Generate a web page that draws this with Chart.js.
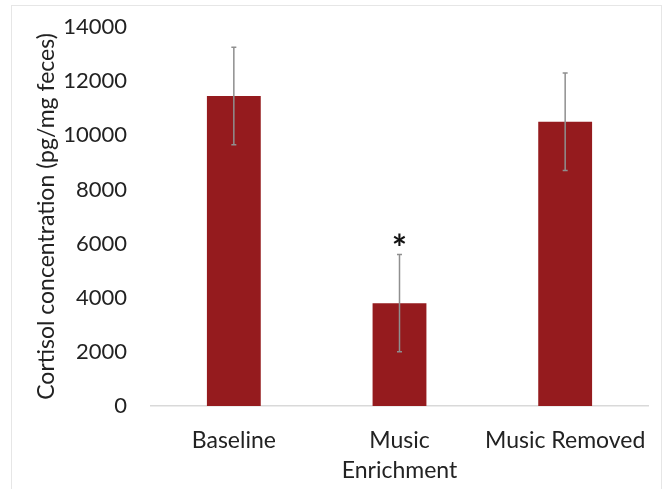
<!DOCTYPE html>
<html>
<head>
<meta charset="utf-8">
<script src="https://cdn.jsdelivr.net/npm/chart.js@4.4.1/dist/chart.umd.min.js"></script>
<style>
    html, body { margin: 0; padding: 0; background: #fff; }
    #wrap { position: relative; width: 665px; height: 489px; }
    #frame { position: absolute; left: 11px; top: 5px; width: 651px; height: 500px; border: 1px solid #e6e6e6; box-sizing: border-box; }
    canvas { position: absolute; left: 0; top: 0; }
</style>
</head>
<body>
<div id="wrap">
    <div id="frame"></div>
    <canvas id="cortisolChart" width="665" height="489"></canvas>
</div>
<script>
const categories = ['Baseline', ['Music', 'Enrichment'], 'Music Removed'];
const cortisolMeans = [11450, 3800, 10500];
const cortisolErrors = [1800, 1800, 1800];
const significance = ['', '*', ''];
const yTicks = [0, 2000, 4000, 6000, 8000, 10000, 12000, 14000];

// draw the error bars and the asterisk on top of the bars
const errorBarPlugin = {
    id: 'errorBars',
    afterDatasetsDraw(chart) {
        const ctx = chart.ctx;
        const yScale = chart.scales.y;
        const meta = chart.getDatasetMeta(0);
        ctx.save();
        meta.data.forEach((bar, i) => {
            const x = bar.x;
            const top = yScale.getPixelForValue(cortisolMeans[i] + cortisolErrors[i]);
            const bottom = yScale.getPixelForValue(cortisolMeans[i] - cortisolErrors[i]);
            ctx.strokeStyle = '#8f8f8f';
            ctx.lineWidth = 1.5;
            ctx.beginPath();
            ctx.moveTo(x, top);
            ctx.lineTo(x, bottom);
            ctx.moveTo(x - 2.5, top);
            ctx.lineTo(x + 2.5, top);
            ctx.moveTo(x - 2.5, bottom);
            ctx.lineTo(x + 2.5, bottom);
            ctx.stroke();
            if (significance[i]) {
                ctx.fillStyle = '#111';
                ctx.font = 'bold 36px Lato';
                ctx.textAlign = 'center';
                ctx.textBaseline = 'alphabetic';
                ctx.fillText(significance[i], x, top + 7);
            }
        });
        ctx.restore();
    }
};

const ctx = document.getElementById('cortisolChart').getContext('2d');
const chart = new Chart(ctx, {
    type: 'bar',
    data: {
        labels: categories,
        datasets: [{
            label: 'Cortisol',
            data: cortisolMeans,
            backgroundColor: '#951b1e',
            borderWidth: 0,
            barPercentage: 0.325,
            categoryPercentage: 1
        }]
    },
    options: {
        responsive: false,
        animation: false,
        layout: {
            padding: { left: 33, right: 17, top: 27, bottom: 2 }
        },
        plugins: {
            legend: { display: false },
            tooltip: { enabled: false }
        },
        scales: {
            x: {
                grid: { display: false, drawTicks: false },
                border: { display: true, color: '#d9d9d9', width: 1.5 },
                ticks: {
                    color: '#222',
                    font: { family: 'Lato', size: 23, lineHeight: 1.3 },
                    padding: 20,
                    maxRotation: 0,
                    autoSkip: false
                },
                afterFit: (scale) => {
                    scale.height = 81;
                    scale.paddingLeft = 0;
                    scale.paddingRight = 0;
                }
            },
            y: {
                min: 0,
                max: 14000,
                afterBuildTicks: (scale) => {
                    scale.ticks = yTicks.map(v => ({ value: v }));
                },
                grid: { display: false, drawTicks: false },
                border: { display: false },
                ticks: {
                    color: '#222',
                    font: { family: 'Lato', size: 22 },
                    padding: 24,
                    callback: (value) => String(value)
                },
                title: {
                    display: true,
                    text: 'Cortisol concentration (pg/mg feces)',
                    color: '#222',
                    font: { family: 'Lato', size: 23 },
                    padding: { top: 0, bottom: 6 }
                },
                afterFit: (scale) => {
                    scale.width = 118;
                    scale.paddingTop = 0;
                    scale.paddingBottom = 0;
                }
            }
        }
    },
    plugins: [errorBarPlugin]
});
</script>
</body>
</html>
